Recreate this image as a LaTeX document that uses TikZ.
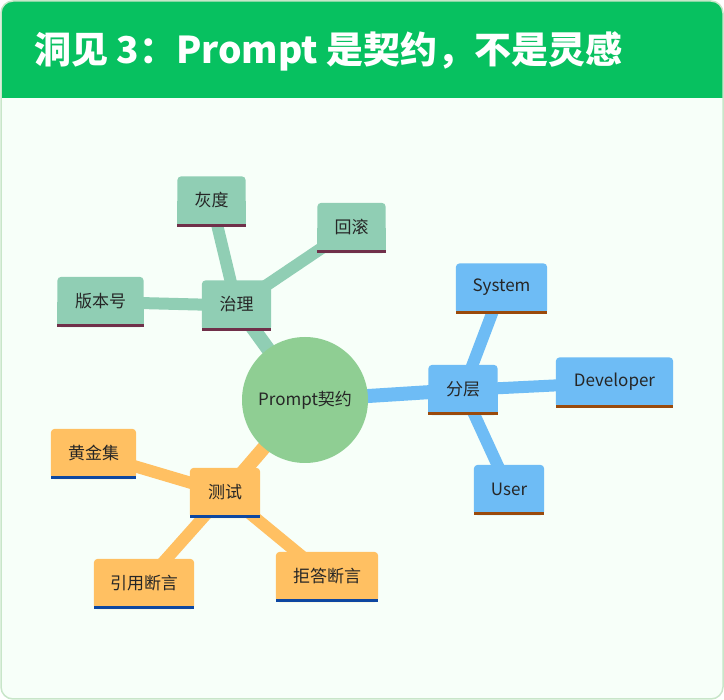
\documentclass[tikz,border=0pt]{standalone}
\usepackage{fontspec}
\setmainfont{Noto Sans CJK SC}
\definecolor{hdr}{HTML}{07C160}
\definecolor{framebg}{HTML}{F7FFF9}
\definecolor{frameline}{HTML}{C8E6C9}
\definecolor{gov}{HTML}{90CEB4}
\definecolor{govbar}{HTML}{70304A}
\definecolor{circ}{HTML}{8FCE93}
\definecolor{lay}{HTML}{6EBCF5}
\definecolor{laybar}{HTML}{9A4A0C}
\definecolor{tst}{HTML}{FFC062}
\definecolor{tstbar}{HTML}{0D47A1}
\definecolor{txt}{HTML}{262626}
\pgfdeclarelayer{edges}
\pgfdeclarelayer{boxes}
\pgfsetlayers{edges,boxes,main}
\tikzset{
  lbl/.style={font=\fontsize{17}{20}\selectfont, text=txt, inner sep=0pt},
  anchorbox/.style={inner sep=0pt, minimum height=50pt},
  mainline/.style={line width=14pt},
  subline/.style={line width=12pt},
}
\newcommand\mmnode[6]{% name, position, width, fill, bar, text
  \node[anchorbox, minimum width=#3] (#1) at (#2) {};
  \begin{pgfonlayer}{boxes}
    \fill[#4, rounded corners=4pt] (#1.south west) rectangle (#1.north east);
    \fill[#4] (#1.south west) rectangle (#1.east);
    \fill[#5] (#1.south west) rectangle ([yshift=3pt]#1.south east);
  \end{pgfonlayer}
  \node[lbl] (#1-t) at ([yshift=1pt]#1.center) {#6};
}
\begin{document}
\begin{tikzpicture}[x=1pt,y=-1pt]
\useasboundingbox (0,0) rectangle (724,700);
\begin{pgfonlayer}{edges}
  \fill[framebg, rounded corners=12pt] (1,1) rectangle (723,699);
  \begin{scope}
    \clip[rounded corners=12pt] (1,1) rectangle (723,699);
    \fill[hdr] (0,0) rectangle (724,98);
  \end{scope}
  \draw[frameline, line width=1.5pt, rounded corners=12pt] (1,1) rectangle (723,699);
\end{pgfonlayer}
\node[anchor=base west, text=white, inner sep=0pt, font=\fontsize{37}{40}\selectfont\bfseries] (title) at (34,64) {洞见 3：Prompt 是契约，不是灵感};

\node[circle, fill=circ, minimum size=126pt, inner sep=0pt, font=\fontsize{17}{20}\selectfont, text=txt] (core) at (305,400) {Prompt契约};

\mmnode{gov}{236.5,305.5}{69pt}{gov}{govbar}{治理}
\mmnode{gray}{211.5,201.5}{68pt}{gov}{govbar}{灰度}
\mmnode{roll}{351.5,228}{68pt}{gov}{govbar}{回滚}
\mmnode{ver}{100.5,302}{86pt}{gov}{govbar}{版本号}

\mmnode{layer}{463,390}{69pt}{lay}{laybar}{分层}
\mmnode{sys}{501.5,288.5}{91pt}{lay}{laybar}{System}
\mmnode{dev}{614.5,382.5}{117pt}{lay}{laybar}{Developer}
\mmnode{user}{509,490}{70pt}{lay}{laybar}{User}

\mmnode{test}{225,493}{70pt}{tst}{tstbar}{测试}
\mmnode{gold}{93.5,454}{85pt}{tst}{tstbar}{黄金集}
\mmnode{cite}{144,584}{100pt}{tst}{tstbar}{引用断言}
\mmnode{refuse}{327,577}{102pt}{tst}{tstbar}{拒答断言}

\begin{pgfonlayer}{edges}
  \draw[gov, mainline] (core.center) -- (gov.center);
  \draw[gov, subline] (gov.center) -- (gray.center);
  \draw[gov, subline] (gov.center) -- (roll.center);
  \draw[gov, subline] (gov.center) -- (ver.center);
  \draw[lay, mainline] (core.center) -- (layer.center);
  \draw[lay, subline] (layer.center) -- (sys.center);
  \draw[lay, subline] (layer.center) -- (dev.center);
  \draw[lay, subline] (layer.center) -- (user.center);
  \draw[tst, mainline] (core.center) -- (test.center);
  \draw[tst, subline] (test.center) -- (gold.center);
  \draw[tst, subline] (test.center) -- (cite.center);
  \draw[tst, subline] (test.center) -- (refuse.center);
\end{pgfonlayer}
\end{tikzpicture}
\end{document}
